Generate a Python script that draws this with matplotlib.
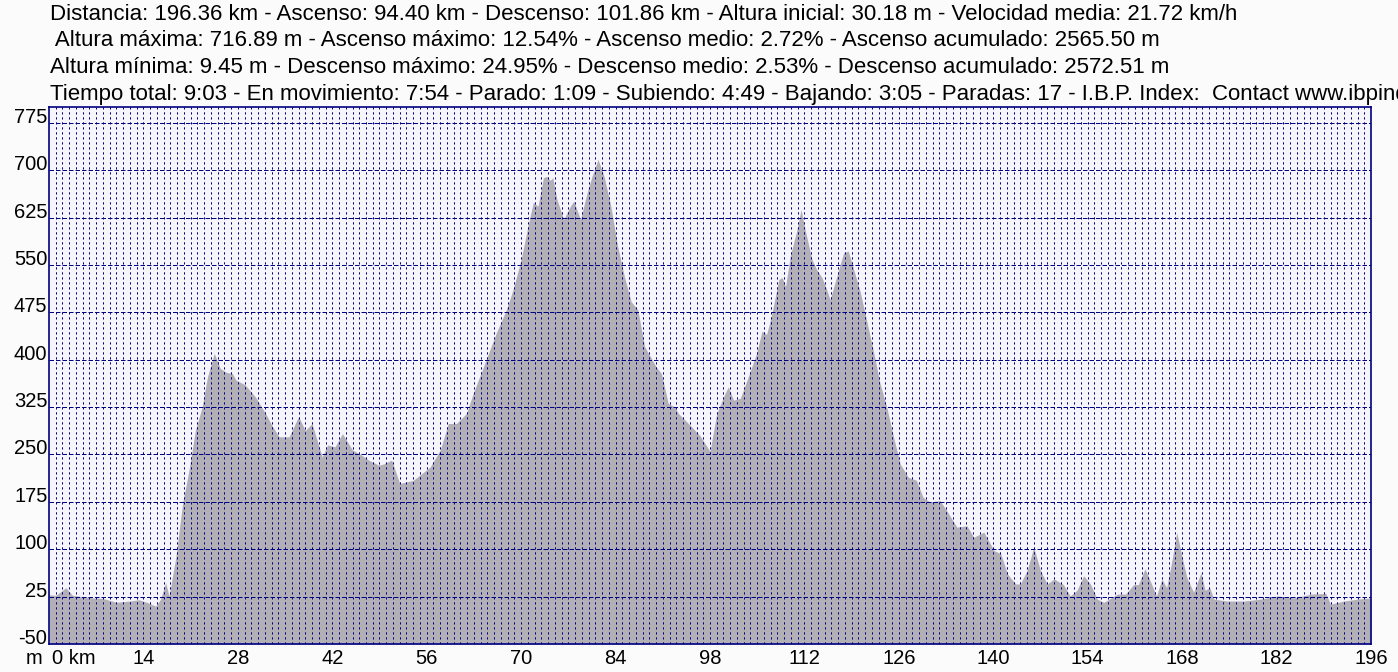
import numpy as np
import matplotlib.pyplot as plt

# elevation profile (km, m)
km = [0, 1, 2.5, 3.5, 5, 6.5, 8, 10, 12, 13.3, 14.5, 15.8, 16.5, 17.3, 17.8, 18.8, 19.8,
      20.75, 21.7, 22.7, 23.5, 24.5, 25.4, 26.3, 27.2, 27.7, 29.1, 30.6, 32.1, 33.1, 34.1,
      35.6, 37, 38, 39, 40.5, 41.3, 42.4, 43.5, 45, 46.2, 47.4, 48.9, 49.6, 50.8, 52, 54,
      56.5, 58, 59.2, 60.4, 61.9, 62.9, 64.6, 66.3, 67.8, 68.8, 70, 71, 71.8, 72.5, 73.3,
      73.8, 74.3, 74.7, 75.3, 76.3, 77.3, 77.8, 78.8, 79.8, 80.5, 81.4, 82.3, 83.3, 84.3,
      85.3, 86.3, 87.3, 88.3, 90, 90.8, 91.8, 92.8, 93.3, 94.8, 96.5, 98, 99, 100, 100.7,
      101.5, 102.5, 103.5, 104.9, 105.7, 106.4, 107.2, 108.2, 108.7, 109.2, 109.9, 110.9,
      111.5, 112.1, 113.1, 113.8, 114.6, 115.3, 115.8, 116.8, 117.8, 118.5, 119.3, 120.3,
      121.3, 122.3, 123.2, 124.2, 125.2, 126.2, 127.4, 128.6, 129.6, 130.6, 132.1, 133.1,
      134.6, 136.1, 137.1, 138.6, 140.1, 141.1, 142.1, 143.3, 144, 145, 146, 147, 148, 149,
      150.4, 151.4, 152.4, 153.4, 154.4, 155.4, 156.4, 158.4, 159.6, 160.8, 161.5, 162.5,
      163.5, 164.2, 165, 165.7, 166.4, 167.2, 167.9, 168.7, 169.7, 170.8, 171.4, 172.1,
      172.7, 174.7, 177.2, 179.6, 182.1, 184.6, 187.1, 189.3, 190, 192, 194, 196]
alt = [28, 27, 39, 27, 25, 23, 22, 16, 18, 20, 16, 10, 20, 47, 26, 87, 172,
       225, 288, 325, 373, 410, 386, 380, 378, 368, 360, 341, 315, 295, 278,
       278, 310, 288, 299, 246, 265, 262, 283, 257, 250, 241, 233, 235, 241, 204, 209,
       230, 257, 299, 299, 315, 347, 394, 442, 479, 511, 559, 611, 649, 643, 688,
       690, 684, 688, 654, 622, 643, 651, 622, 665, 690, 717, 690, 643, 580,
       532, 492, 479, 421, 389, 378, 331, 325, 315, 299, 280, 255, 315, 341, 357,
       336, 339, 368, 410, 445, 440, 474, 527, 530, 516, 564, 606,
       638, 606, 559, 543, 530, 511, 495, 532, 569, 572, 543, 506,
       458, 410, 363, 325, 278, 235, 214, 209, 182, 175, 177, 161,
       135, 137, 119, 127, 98, 93, 61, 45, 45, 66, 103, 66, 45, 53,
       44, 26, 35, 58, 45, 21, 16, 29, 29, 44, 44, 69,
       44, 26, 53, 39, 77, 127, 92, 55, 32, 63, 35, 39,
       21, 18, 18, 21, 26, 23, 29, 30, 13, 18, 21, 23]

x_ticks = [0, 14, 28, 42, 56, 70, 84, 98, 112, 126, 140, 154, 168, 182, 196]
y_ticks = [-50, 25, 100, 175, 250, 325, 400, 475, 550, 625, 700, 775]

header = [
    "Distancia: 196.36 km - Ascenso: 94.40 km - Descenso: 101.86 km - Altura inicial: 30.18 m - Velocidad media: 21.72 km/h",
    " Altura máxima: 716.89 m - Ascenso máximo: 12.54% - Ascenso medio: 2.72% - Ascenso acumulado: 2565.50 m",
    "Altura mínima: 9.45 m - Descenso máximo: 24.95% - Descenso medio: 2.53% - Descenso acumulado: 2572.51 m",
    "Tiempo total: 9:03 - En movimiento: 7:54 - Parado: 1:09 - Subiendo: 4:49 - Bajando: 3:05 - Paradas: 17 - I.B.P. Index:  Contact www.ibpindex.com",
]

plt.rcParams['font.family'] = ['Liberation Sans', 'DejaVu Sans']
navy = '#000080'

fig = plt.figure(figsize=(13.98, 6.72), dpi=100)
fig.patch.set_facecolor('#fbfbfb')
ax = fig.add_axes([49 / 1398, 1 - 644 / 672, 1322 / 1398, 537 / 672])
ax.set_facecolor('#f5f5fb')

ax.fill_between(km, -50, alt, color='#b3afb7', lw=0, zorder=1)

ax.set_xlim(0, 196)
ax.set_ylim(-50, 800)

# grid: every km vertically, every 75 m horizontally
for k in range(1, 196):
    ax.axvline(k, color=navy, lw=0.72, ls=(0, (2.2, 2.8)), zorder=2)
for v in y_ticks[1:]:
    ax.axhline(v, color=navy, lw=0.72, ls=(0, (4.5, 2)), zorder=2)

ax.set_xticks([])
ax.set_yticks([])
for s in ax.spines.values():
    s.set_color(navy)
    s.set_linewidth(1.2)
    s.set_zorder(3)

yt = ax.get_yaxis_transform()
for v in y_ticks:
    ax.text(-0.0012, v, str(v), transform=yt, ha='right', va='baseline', fontsize=14.5)

xt = ax.get_xaxis_transform()
for k in x_ticks:
    if k == 0:
        ax.text(0.4, -0.01, "0 km", transform=xt, ha='left', va='top', fontsize=14.5)
    else:
        ax.text(k, -0.01, str(k), transform=xt, ha='center', va='top', fontsize=14.5)
ax.text(-0.005, -0.01, "m", transform=ax.transAxes, ha='right', va='top', fontsize=14.5)

# header lines; the last one runs off the right edge as in the original
ys = [20, 46, 73, 100]
for line, y in zip(header, ys):
    fig.text(50 / 1398, 1 - y / 672, line, ha='left', va='baseline', fontsize=16)

fig.savefig('out.png', dpi=100, facecolor=fig.get_facecolor())
